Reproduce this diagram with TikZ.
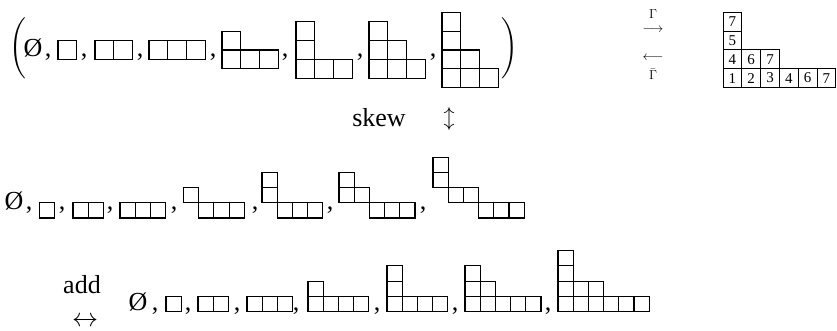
\RequirePackage{fix-cm}
\documentclass[tikz,border=0pt]{standalone}
\usepackage{amsmath}
\usepackage{exscale}
\usepackage{graphicx}
\usepackage{fontspec}
\setmainfont{Liberation Serif}
\usetikzlibrary{positioning}
\tikzset{
  cell/.style={draw, line width=1.1pt},
  tcell/.style={draw, line width=0.8pt, minimum size=18.8pt, inner sep=0pt, font=\fontsize{15}{17}\selectfont},
  txt/.style={inner sep=0pt, anchor=base, font=\fontsize{26}{30}\selectfont},
  paren/.style={inner sep=0pt, font=\fontsize{26}{30}\selectfont},
  lbl/.style={inner sep=0pt, font=\fontsize{13}{15}\selectfont},
}
\newcommand{\yrow}[4]{%
  \foreach \k in {1,...,#3}
    \draw[cell] ({#1+(\k-1)*#4},#2) rectangle ++(#4,-#4);
}
\begin{document}
\begin{tikzpicture}[x=1pt, y=-1pt]
  \useasboundingbox (0,0) rectangle (837,331);
  \node[paren] (lp) at (18,48) {\scalebox{0.85}[0.82]{$\Biggl($}};
  \node[paren] (rp) at (510,48) {\scalebox{0.85}[0.82]{$\Biggr)$}};
  \node[txt] (ea) at (33,57) {Ø};
  \foreach \x [count=\i] in {48,84,140,213,285,360,433}
    \node[txt] (ca\i) at (\x,57) {,};
  \yrow{58}{59.4}{1}{18.8}
  \yrow{95}{59.4}{2}{18.8}
  \yrow{149}{59.4}{3}{18.8}
  \yrow{222}{68.8}{3}{18.8} \yrow{222}{50}{1}{18.8}
  \yrow{296}{78.2}{3}{18.8} \yrow{296}{59.4}{1}{18.8} \yrow{296}{40.6}{1}{18.8}
  \yrow{369}{78.2}{3}{18.8} \yrow{369}{59.4}{2}{18.8} \yrow{369}{40.6}{1}{18.8}
  \yrow{442}{87.6}{3}{18.8} \yrow{442}{68.8}{2}{18.8} \yrow{442}{50}{1}{18.8} \yrow{442}{31.2}{1}{18.8}

  \node[lbl] (g) at (653,14.5) {$\Gamma$};
  \node[lbl] (ra) at (653,30) {$\longrightarrow$};
  \node[lbl] (la) at (653,58.5) {$\longleftarrow$};
  \node[lbl] (gb) at (653,74) {$\bar\Gamma$};
  \foreach \v [count=\i] in {1,2,3,4,6,7}
    \node[tcell] (ta\i) at ({723+(\i-0.5)*18.8},78.1) {\v};
  \foreach \v [count=\i] in {4,6,7}
    \node[tcell] (tb\i) at ({723+(\i-0.5)*18.8},59.3) {\v};
  \node[tcell] (tc1) at (732.4,40.5) {5};
  \node[tcell] (td1) at (732.4,21.7) {7};

  \node[txt] (skew) at (379,127) {skew};
  \node[inner sep=0pt, font=\fontsize{22}{26}\selectfont] (ud) at (449,119) {$\updownarrow$};

  \node[txt] (eb) at (14,209) {Ø};
  \foreach \x [count=\i] in {29,62,110,174,255,330,423}
    \node[txt] (cb\i) at (\x,209) {,};
  \yrow{39.5}{218}{1}{15.2}
  \yrow{73}{218}{2}{15.2}
  \yrow{120}{218}{3}{15.2}
  \yrow{183.5}{202.8}{1}{15.2} \yrow{198.7}{218}{3}{15.2}
  \yrow{262}{202.8}{1}{15.2} \yrow{262}{187.6}{1}{15.2} \yrow{277.2}{218}{3}{15.2}
  \yrow{339}{187.6}{1}{15.2} \yrow{339}{202.8}{2}{15.2} \yrow{369.4}{218}{3}{15.2}
  \yrow{433}{172.4}{1}{15.2} \yrow{433}{187.6}{1}{15.2} \yrow{448.2}{202.8}{2}{15.2} \yrow{478.6}{218}{3}{15.2}

  \node[txt] (add) at (82,293) {add};
  \node[txt, anchor=center] (lr) at (85,322) {$\leftrightarrow$};
  \node[txt] (ec) at (138,310) {Ø};
  \foreach \x [count=\i] in {155,188,237,296,377,455,548}
    \node[txt] (cc\i) at (\x,310) {,};
  \yrow{166}{311.5}{1}{15.2}
  \yrow{198}{311.5}{2}{15.2}
  \yrow{247}{311.5}{3}{15.2}
  \yrow{308}{311.5}{4}{15.2} \yrow{308}{296.3}{1}{15.2}
  \yrow{387}{311.5}{4}{15.2} \yrow{387}{296.3}{1}{15.2} \yrow{387}{281.1}{1}{15.2}
  \yrow{465}{311.5}{5}{15.2} \yrow{465}{296.3}{2}{15.2} \yrow{465}{281.1}{1}{15.2}
  \yrow{558}{311.5}{6}{15.2} \yrow{558}{296.3}{3}{15.2} \yrow{558}{281.1}{1}{15.2} \yrow{558}{265.9}{1}{15.2}
\end{tikzpicture}
\end{document}
